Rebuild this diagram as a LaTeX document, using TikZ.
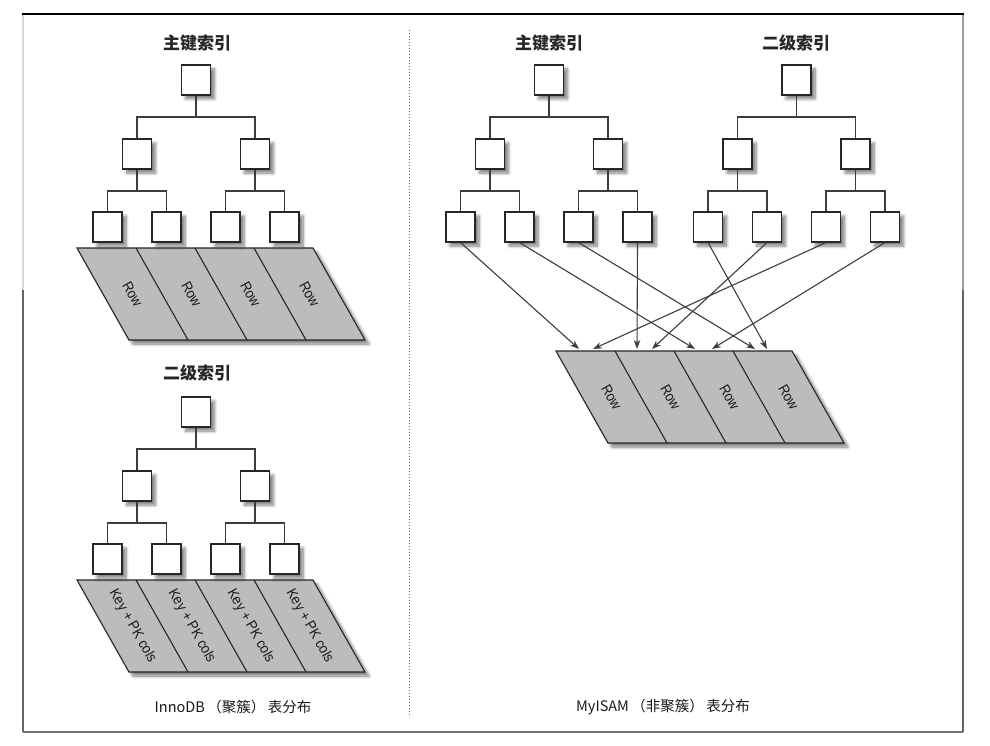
\documentclass[tikz,border=0pt]{standalone}
\usepackage{fontspec}
\newfontfamily\cjk{Noto Sans CJK SC}
\newfontfamily\narrow[FakeStretch=0.9]{Liberation Sans}
\usetikzlibrary{shadows.blur,arrows.meta}
\definecolor{cellgray}{RGB}{188,188,188}
\definecolor{linegray}{RGB}{60,60,60}
\tikzset{
  myshadow/.style={blur shadow={shadow xshift=4pt,shadow yshift=-4pt,shadow blur radius=3pt,shadow blur steps=8,shadow opacity=50}},
  box/.style={draw=black!85,fill=white,line width=1.1pt,minimum width=29pt,minimum height=30pt,inner sep=0pt,myshadow},
  conn/.style={draw=linegray,line width=1.1pt},
  arr/.style={conn,-{Stealth[length=9pt,width=6.5pt]}},
  title/.style={font=\cjk\bfseries\fontsize{17}{20}\selectfont,text=black!85},
  caption/.style={font=\cjk\fontsize{14.5}{17}\selectfont,text=black!90},
  celltext/.style={font=\narrow\fontsize{14.5}{16}\selectfont,rotate=-60.5,text=black!90,inner sep=0pt},
  cellfill/.style={fill=cellgray,draw=black!85,line width=1.1pt,myshadow},
  divider/.style={draw=black!85,line width=1.1pt},
}
% tree: name, center x, root y
\newcommand\btree[3]{%
  \node[box] (#1r) at (#2,#3) {};
  \node[box] (#1m1) at (#2-59,#3+74) {};
  \node[box] (#1m2) at (#2+59,#3+74) {};
  \node[box] (#1l1) at (#2-88.5,#3+147) {};
  \node[box] (#1l2) at (#2-29.5,#3+147) {};
  \node[box] (#1l3) at (#2+29.5,#3+147) {};
  \node[box] (#1l4) at (#2+88.5,#3+147) {};
  \coordinate (#1b) at (#2,#3+37);
  \coordinate (#1b1) at (#2-59,#3+111);
  \coordinate (#1b2) at (#2+59,#3+111);
  \draw[conn] (#1r.south) -- (#1b);
  \draw[conn] (#1m1.north) |- (#1b) -| (#1m2.north);
  \draw[conn] (#1m1.south) -- (#1b1);
  \draw[conn] (#1l1.north) |- (#1b1) -| (#1l2.north);
  \draw[conn] (#1m2.south) -- (#1b2);
  \draw[conn] (#1l3.north) |- (#1b2) -| (#1l4.north);
}
% cells: name, top-left x, top y, text
\newcommand\cells[4]{%
  \path[cellfill] (#2,#3) -- (#2+236,#3) -- (#2+288,#3+92) -- (#2+52,#3+92) -- cycle;
  \foreach \i in {1,2,3}{\draw[divider] (#2+59*\i,#3) -- (#2+59*\i+52,#3+92);}
  \foreach \i in {1,2,3,4}{\node[celltext] (#1c\i) at (#2+59*\i-29.5+26,#3+46) {#4};}
}
\begin{document}
\begin{tikzpicture}[x=1pt,y=-1pt]
\useasboundingbox (0,0) rectangle (990,746);
% frame
\draw[line width=1.6pt,black!55] (23,732) -- (963,732);
\draw[line width=1.6pt,black!15] (23,15) -- (23,290);
\draw[line width=1.6pt,black!60] (23,290) -- (23,732);
\draw[line width=1.8pt,black!38] (963,14) -- (963,290);
\draw[line width=1.6pt,black!62] (963,290) -- (963,732);
\draw[line width=1.6pt,black] (22,14) -- (964,14);
% divider
\draw[black!60,line width=1pt,dash pattern=on 1pt off 2pt] (409,30) -- (409,717);

% ---------- InnoDB ----------
\node[title] (tA) at (197,43) {主键索引};
\cells{A}{77}{248}{Row}
\btree{A}{196}{80}

\node[title] (tB) at (197,373) {二级索引};
\cells{B}{77}{580}{Key + PK cols}
\btree{B}{196}{412}

\node[caption] (capL) at (233,707) {InnoDB\,（聚簇）\,表分布};

% ---------- MyISAM ----------
\node[title] (tP) at (549,43) {主键索引};
\node[title] (tS) at (796,43) {二级索引};
\cells{R}{556}{351}{Row}
\btree{P}{549}{80}
\btree{S}{796.5}{80}

\coordinate (g1a) at (579,349);
\coordinate (g1b) at (593,349);
\coordinate (g2a) at (637,349);
\coordinate (g2b) at (652,349);
\coordinate (g3a) at (695,349);
\coordinate (g3b) at (712,349);
\coordinate (g4a) at (755,349);
\coordinate (g4b) at (767,349);

\draw[arr] (Pl1.south) -- (g1a);
\draw[arr] (Pl2.south) -- (g3a);
\draw[arr] (Pl3.south) -- (g4a);
\draw[arr] (Pl4.south) -- (g2a);
\draw[arr] (Sl1.south) -- (g4b);
\draw[arr] (Sl2.south) -- (g2b);
\draw[arr] (Sl3.south) -- (g1b);
\draw[arr] (Sl4.south) -- (g3b);

\node[caption] (capR) at (663,707) {MyISAM\,（非聚簇）\,表分布};
\end{tikzpicture}
\end{document}
